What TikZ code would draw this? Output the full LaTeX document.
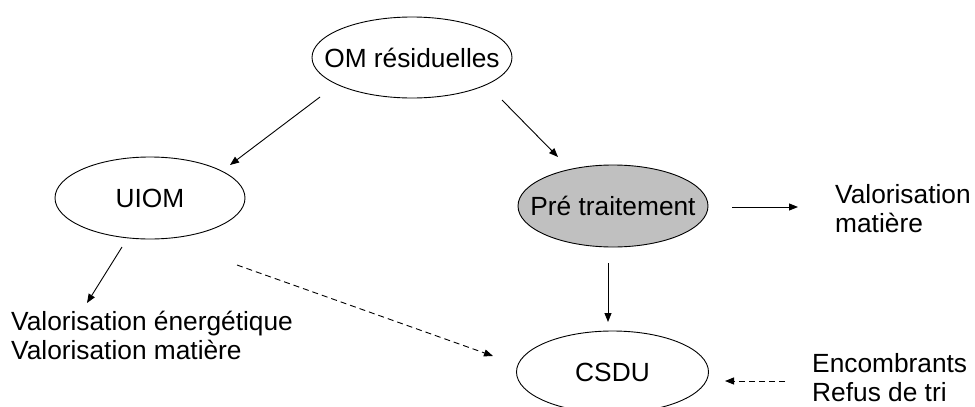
\documentclass[tikz,border=0pt]{standalone}
\usepackage{fontspec}
\setmainfont{Liberation Sans}
\usetikzlibrary{shapes.geometric,arrows.meta}

\begin{document}
\begin{tikzpicture}[x=1pt,y=-1pt,
  every node/.style={font=\fontsize{26.3}{29}\selectfont},
  bubble/.style 2 args={ellipse,draw,line width=0.9pt,inner sep=0pt,
    minimum width=#1,minimum height=#2},
  caption/.style={anchor=base west,inner sep=0pt},
  flow/.style={line width=0.9pt,-{Triangle[length=9pt,width=7pt]}},
  side/.style={flow,dash pattern=on 6pt off 4pt}]
  \useasboundingbox (0,0) rectangle (975,407);

  % process nodes: fixed-size ellipses, text laid on the centre
  \node[bubble={200pt}{81pt},label={center:OM résiduelles}] (om) at (412,57.5) {};
  \node[bubble={190pt}{82pt},label={center:UIOM}] (uiom) at (150,198) {};
  \node[bubble={190pt}{82pt},fill={rgb,255:red,192;green,192;blue,192},
    label={center:Pré traitement}] (pre) at (613,206) {};
  \node[bubble={192pt}{82pt},label={center:CSDU}] (csdu) at (612.5,372) {};

  % outputs and inputs
  \node[caption] (valm1) at (835,203) {Valorisation};
  \node[caption] (valm2) at (835,232) {matière};
  \node[caption] (vale1) at (11,330) {Valorisation énergétique};
  \node[caption] (vale2) at (11,359) {Valorisation matière};
  \node[caption] (enc1) at (812,372) {Encombrants};
  \node[caption] (enc2) at (812,401) {Refus de tri};

  % connector end points
  \coordinate (om-l)   at (320,97);
  \coordinate (uiom-t) at (230,165);
  \coordinate (om-r)   at (502,100);
  \coordinate (pre-t)  at (558,157);
  \coordinate (pre-r)  at (732,207);
  \coordinate (valm-l) at (798,207);
  \coordinate (pre-b)  at (608,263);
  \coordinate (csdu-t) at (608,322);
  \coordinate (uiom-b) at (122,247);
  \coordinate (vale-t) at (87,303);
  \coordinate (uiom-r) at (237,265);
  \coordinate (csdu-l) at (493,356);
  \coordinate (enc-l)  at (785,381);
  \coordinate (csdu-r) at (725,381);

  % connectors
  \draw[flow] (om-l) -- (uiom-t);
  \draw[flow] (om-r) -- (pre-t);
  \draw[flow] (pre-r) -- (valm-l);
  \draw[flow] (pre-b) -- (csdu-t);
  \draw[flow] (uiom-b) -- (vale-t);
  \draw[side] (uiom-r) -- (csdu-l);
  \draw[side] (enc-l) -- (csdu-r);
\end{tikzpicture}
\end{document}
